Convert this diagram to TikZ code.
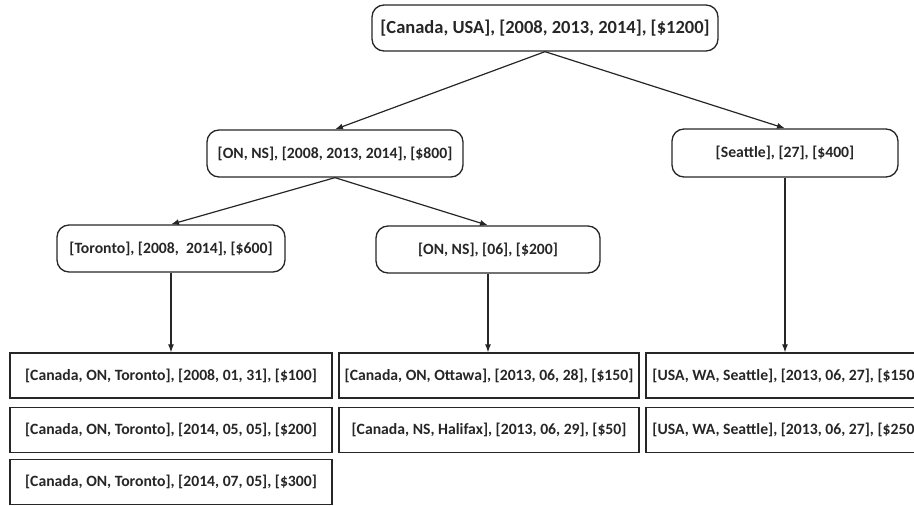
\documentclass[tikz,border=0pt]{standalone}
\usepackage{fontspec}
\setmainfont{Carlito}
\usetikzlibrary{arrows.meta}
\begin{document}
\begin{tikzpicture}[x=1pt,y=-1pt,
  box/.style={draw=black!85, line width=1.3pt, inner sep=0pt, text=black!85,
    font=\bfseries\fontsize{15.7}{18}\selectfont},
  groupbox/.style={box, rounded corners=12pt},
  rowbox/.style={box, minimum height=45},
  link/.style={draw=black!85, line width=1.2pt, -{Latex[length=8pt,width=6pt]}}]
\clip (0,0) rectangle (914,506);

% upper levels of the tree
\node[groupbox, minimum width=346, minimum height=46, font=\bfseries\fontsize{18.5}{21}\selectfont]
  (root) at (545,28) {[Canada, USA], [2008, 2013, 2014], [\$1200]};
\node[groupbox, minimum width=256, minimum height=47] (onns) at (335,153.5)
  {[ON, NS], [2008, 2013, 2014], [\$800]};
\node[groupbox, minimum width=226, minimum height=48] (sea) at (785,153)
  {[Seattle], [27], [\$400]};
\node[groupbox, minimum width=228, minimum height=47] (tor) at (171,248.5)
  {[Toronto], [2008,\ \ 2014], [\$600]};
\node[groupbox, minimum width=224, minimum height=47] (onns06) at (488,249.5)
  {[ON, NS], [06], [\$200]};

% leaf records
\node[rowbox, minimum width=322] (t1) at (171,375.5) {[Canada, ON, Toronto], [2008, 01, 31], [\$100]};
\node[rowbox, minimum width=322] (t2) at (171,430) {[Canada, ON, Toronto], [2014, 05, 05], [\$200]};
\node[rowbox, minimum width=322] (t3) at (171,482) {[Canada, ON, Toronto], [2014, 07, 05], [\$300]};
\node[rowbox, minimum width=300] (m1) at (489,375.5) {[Canada, ON, Ottawa], [2013, 06, 28], [\$150]};
\node[rowbox, minimum width=300] (m2) at (489,430) {[Canada, NS, Halifax], [2013, 06, 29], [\$50]};
\node[rowbox, minimum width=280] (s1) at (786,375.5) {[USA, WA, Seattle], [2013, 06, 27], [\$150]};
\node[rowbox, minimum width=280] (s2) at (786,430) {[USA, WA, Seattle], [2013, 06, 27], [\$250]};

% connectors
\draw[link] (root.south) -- (onns.north);
\draw[link] (root.south) -- (sea.north);
\draw[link] (onns.south) -- (tor.north);
\draw[link] (onns.south) -- (onns06.north);
\draw[link] (tor.south) -- (tor.south |- t1.north);
\draw[link] (onns06.south) -- (onns06.south |- m1.north);
\draw[link] (sea.south) -- (sea.south |- s1.north);
\end{tikzpicture}
\end{document}
